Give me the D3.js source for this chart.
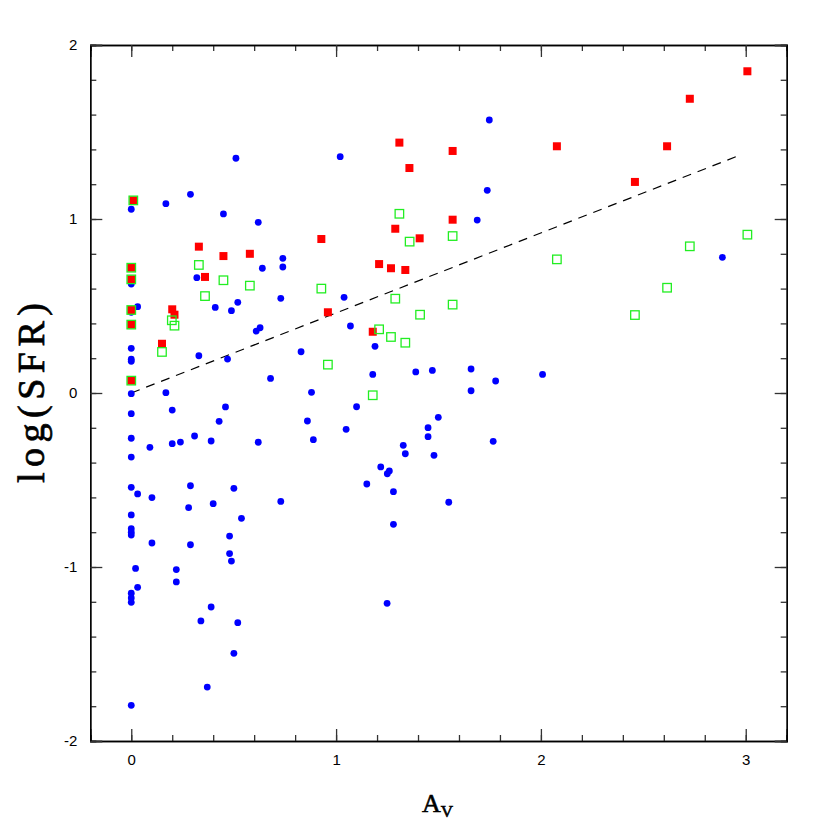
<!DOCTYPE html>
<html>
<head>
<meta charset="utf-8">
<script src="https://cdn.jsdelivr.net/npm/d3@7"></script>
<style>
  body { margin: 0; background: #fff; }
  svg { display: block; }
</style>
</head>
<body>
<script>
// data: [A_V, log(SFR)]
var bluePoints = [
  [0.511,1.349],[0,1.056],[0.169,1.088],[0.289,1.142],[0.45,1.029],[0.62,0.981],[0.74,0.774],
  [0.64,0.717],[0.74,0.724],[0.32,0.663],[0,0.626],[0.031,0.496],[0,0.464],[0.41,0.492],
  [0.489,0.473],[0.52,0.521],[0.73,0.544],[0.61,0.356],[0.629,0.375],[0,0.257],[0,0.194],
  [0,0.182],[0.33,0.214],[0.47,0.195],[0.829,0.237],[0.68,0.084],[0,-0.004],[0.169,0.002],
  [0.88,0.004],[0,-0.119],[0.2,-0.098],[0.46,-0.08],[0.429,-0.163],[0.86,-0.161],[0,-0.26],
  [0.091,-0.312],[0.2,-0.291],[0.24,-0.282],[0.309,-0.247],[0.39,-0.276],[0.62,-0.283],
  [0.889,-0.268],[0,-0.368],[0,-0.542],[0.031,-0.58],[0.101,-0.601],[0.289,-0.533],
  [0.501,-0.548],[0.28,-0.659],[0.4,-0.636],[0.73,-0.623],[0.538,-0.72],[0,-0.701],[0,-0.78],
  [0,-0.8],[0,-0.816],[0.48,-0.822],[0.101,-0.862],[0.289,-0.872],[0.48,-0.923],[0.489,-0.966],
  [0.021,-1.008],[0.22,-1.015],[0.22,-1.086],[0.031,-1.117],[0,-1.151],[0,-1.178],[0,-1.203],
  [0.39,-1.23],[0.34,-1.31],[0.52,-1.32],[0.501,-1.496],[0.371,-1.69],[0,-1.795],
  [1.02,1.358],[1.748,1.569],[1.738,1.165],[1.689,0.994],[1.039,0.55],[1.07,0.385],
  [1.19,0.268],[1.179,0.107],[1.389,0.121],[1.47,0.13],[1.659,0.138],[1.779,0.069],
  [1.659,0.013],[2.008,0.107],[1.1,-0.079],[1.049,-0.209],[1.499,-0.14],[1.449,-0.199],
  [1.449,-0.251],[1.767,-0.278],[1.328,-0.301],[1.338,-0.349],[1.478,-0.358],[1.218,-0.425],
  [1.26,-0.448],[1.25,-0.464],[1.15,-0.523],[1.28,-0.567],[1.55,-0.628],[1.28,-0.755],
  [1.249,-1.209],[2.886,0.78]
];
var redPoints = [
  [0.01,1.107],[0.33,0.841],[0.45,0.787],[0.579,0.8],[0.928,0.885],[0,0.72],[0,0.653],
  [0.36,0.667],[0,0.477],[0.2,0.481],[0.211,0.45],[0,0.393],[0.15,0.283],[0,0.071],
  [0.96,0.464],[1.309,1.439],[1.569,1.391],[1.358,1.293],[2.078,1.418],[1.569,0.996],
  [1.289,0.944],[1.408,0.889],[1.21,0.741],[1.268,0.717],[1.338,0.707],[1.179,0.352],
  [3.008,1.849],[2.727,1.691],[2.616,1.418],[2.459,1.213]
];
var greenPoints = [
  [0.01,1.107],[0,0.72],[0,0.653],[0.33,0.736],[0.45,0.648],[0.579,0.617],[0.928,0.6],
  [0,0.477],[0,0.393],[0,0.071],[0.198,0.418],[0.211,0.387],[0.15,0.236],[0.36,0.557],
  [0.96,0.163],[1.309,1.03],[1.359,0.87],[1.569,0.902],[2.078,0.768],[1.289,0.542],
  [1.569,0.508],[1.41,0.45],[1.21,0.366],[1.268,0.322],[1.338,0.289],[1.179,-0.013],
  [3.008,0.91],[2.727,0.843],[2.616,0.605],[2.459,0.448]
];
var fitLine = [[0,0],[2.97,1.366]];
var xMajor = [0,1,2,3];
var yMajor = [-2,-1,0,1,2];

var width = 830, height = 830;
var mLeft = 90.3, mRight = 786.7, mTop = 45, mBottom = 741;

var svg = d3.select("body").append("svg")
  .attr("width", width).attr("height", height)
  .attr("viewBox", "0,0," + width + "," + height);

var x = d3.scaleLinear().domain([-0.2, 3.2]).range([mLeft, mRight]);
var y = d3.scaleLinear().domain([-2, 2]).range([mBottom, mTop]);

var xMinor = d3.range(-0.2, 3.21, 0.2).map(function(d){ return +d.toFixed(1); });
var yMinor = d3.range(-2, 2.01, 0.2).map(function(d){ return +d.toFixed(1); });

//AXES, ticks pointing inward on all four sides
function styleAxis(g){
  g.select(".domain").attr("stroke", "#000").attr("stroke-width", 1.3);
  g.selectAll(".tick line").attr("stroke", "#333").attr("stroke-width", 1.3);
  g.selectAll(".tick text").attr("fill", "#000")
    .attr("font-family", "Liberation Sans, Arial, sans-serif").attr("font-size", "15px");
}
function addAxis(axisFn, scale, minorVals, majorVals, tx, ty, labels){
  svg.append("g").attr("transform", "translate(" + tx + "," + ty + ")")
    .call(axisFn(scale).tickValues(minorVals).tickSize(-6).tickFormat(function(){ return ""; }))
    .call(styleAxis);
  svg.append("g").attr("transform", "translate(" + tx + "," + ty + ")")
    .call(axisFn(scale).tickValues(majorVals).tickSize(-12).tickPadding(labels ? 13 : 0)
      .tickFormat(function(d){ return labels ? String(d) : ""; }))
    .call(styleAxis);
}
addAxis(d3.axisBottom, x, xMinor, xMajor, 0, mBottom, true);
addAxis(d3.axisTop, x, xMinor, xMajor, 0, mTop, false);
addAxis(d3.axisLeft, y, yMinor, yMajor, mLeft, 0, true);
addAxis(d3.axisRight, y, yMinor, yMajor, mRight, 0, false);

//FIT LINE
svg.append("path")
  .attr("d", d3.line().x(function(d){ return x(d[0]); }).y(function(d){ return y(d[1]); })(fitLine))
  .attr("stroke", "#000").attr("stroke-width", 1.2)
  .attr("stroke-dasharray", "9,7").attr("fill", "none");

//POINTS
svg.selectAll("circle.blue").data(bluePoints).enter().append("circle")
  .attr("class", "blue")
  .attr("cx", function(d){ return x(d[0]); })
  .attr("cy", function(d){ return y(d[1]); })
  .attr("r", 3.4)
  .attr("fill", "#0000ff");

var rs = 8;
svg.selectAll("rect.red").data(redPoints).enter().append("rect")
  .attr("class", "red")
  .attr("x", function(d){ return x(d[0]) - rs/2; })
  .attr("y", function(d){ return y(d[1]) - rs/2; })
  .attr("width", rs).attr("height", rs)
  .attr("fill", "#ff0000");

var gs = 8.5;
svg.selectAll("rect.green").data(greenPoints).enter().append("rect")
  .attr("class", "green")
  .attr("x", function(d){ return x(d[0]) - gs/2; })
  .attr("y", function(d){ return y(d[1]) - gs/2; })
  .attr("width", gs).attr("height", gs)
  .attr("fill", "none")
  .attr("stroke", "#22ee22").attr("stroke-width", 1.3);

//AXIS TITLES
svg.append("text")
  .attr("transform", "translate(44," + y(0) + ") rotate(-90)")
  .attr("text-anchor", "middle")
  .attr("font-family", "Liberation Serif, Times New Roman, serif")
  .attr("font-size", "38px")
  .attr("stroke", "#000").attr("stroke-width", 0.7)
  .attr("textLength", 180).attr("lengthAdjust", "spacing")
  .attr("fill", "#000")
  .text("log(SFR)");

var xt = svg.append("text")
  .attr("x", 422).attr("y", 812)
  .attr("font-family", "Liberation Serif, Times New Roman, serif")
  .attr("font-size", "26px")
  .attr("stroke", "#000").attr("stroke-width", 0.6)
  .attr("fill", "#000");
xt.append("tspan").text("A");
xt.append("tspan").attr("font-size", "17px").attr("dy", 5).text("V");
</script>
</body>
</html>
